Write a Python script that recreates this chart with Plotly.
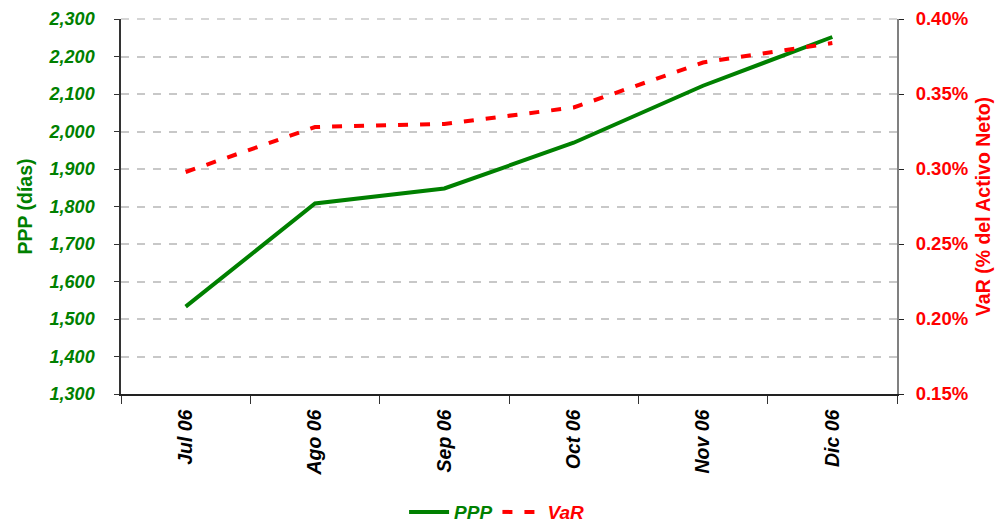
import plotly.graph_objects as go

categories = ["Jul 06", "Ago 06", "Sep 06", "Oct 06", "Nov 06", "Dic 06"]
ppp_values = [1533, 1808, 1848, 1970, 2122, 2252]
var_values = [0.298, 0.328, 0.330, 0.341, 0.371, 0.384]

left_ticks = list(range(1300, 2301, 100))
right_ticks = [0.15, 0.20, 0.25, 0.30, 0.35, 0.40]
right_tick_labels = ["0.15%", "0.20%", "0.25%", "0.30%", "0.35%", "0.40%"]

GREEN = "#008000"
RED = "#FF0000"
FONT = "Liberation Sans, Arial, sans-serif"
GRID = "#c8c8c8"

fig = go.Figure()
fig.add_trace(go.Scatter(
    x=categories, y=ppp_values, mode="lines",
    name=f"<b><i><span style='color:{GREEN}'>PPP</span></i></b>",
    line=dict(color=GREEN, width=4), yaxis="y"))
fig.add_trace(go.Scatter(
    x=categories, y=var_values, mode="lines",
    name=f"<b><i><span style='color:{RED}'>VaR</span></i></b>",
    line=dict(color=RED, width=4, dash="10px,12px"), yaxis="y2"))

# top gridline at the upper edge of the value axis (plotly omits grid at the range edge)
fig.add_shape(type="line", xref="paper", x0=0, x1=1, yref="paper",
              y0=1, y1=1, layer="below",
              line=dict(color=GRID, width=1.5, dash="8px,8px"))

fig.update_layout(
    width=995, height=522,
    margin=dict(l=121, r=98, t=19, b=128),
    paper_bgcolor="white", plot_bgcolor="white",
    font=dict(family=FONT, size=18, color="black"),
    showlegend=True,
    legend=dict(orientation="h", x=0.484, xanchor="center",
                yref="container", y=0.019, yanchor="middle",
                font=dict(family=FONT, size=19), itemwidth=40, tracegroupgap=0),
    xaxis=dict(
        type="category", range=[-0.5, 5.5], showline=True, linecolor="#222222", linewidth=1.5,
        ticks="outside", ticklen=8, tickcolor="#333333", tickson="boundaries",
        tickangle=-90, showgrid=False, zeroline=False, automargin=False,
        tickfont=dict(family=FONT, size=19.5, color="black", weight="bold", style="italic"),
        ticklabelstandoff=6,
    ),
    yaxis=dict(
        range=[1300, 2300], tickvals=left_ticks, tickformat=",",
        showline=True, linecolor="#333333", linewidth=1.5,
        ticks="outside", ticklen=5, tickcolor="#333333",
        showgrid=True, gridcolor=GRID, gridwidth=1.5, griddash="8px,8px",
        zeroline=False, automargin=False, ticklabelstandoff=16,
        tickfont=dict(family=FONT, size=18, color=GREEN, weight="bold", style="italic"),
        title=dict(text="<b>PPP (días)</b>", font=dict(family=FONT, size=19.5, color=GREEN), standoff=11),
    ),
    yaxis2=dict(
        range=[0.15, 0.40], tickvals=right_ticks, ticktext=right_tick_labels,
        overlaying="y", side="right",
        showline=True, linecolor="#808080", linewidth=2,
        ticks="outside", ticklen=5, tickcolor="#222222",
        showgrid=False, zeroline=False, automargin=False, ticklabelstandoff=8,
        tickfont=dict(family=FONT, size=18.5, color=RED, weight="bold"),
        title=dict(text="<b>VaR (% del Activo Neto)</b>", font=dict(family=FONT, size=19.5, color=RED), standoff=9),
    ),
)

fig.write_html("out.html", config={"displayModeBar": False},
               post_script="document.body.style.margin='0';")
